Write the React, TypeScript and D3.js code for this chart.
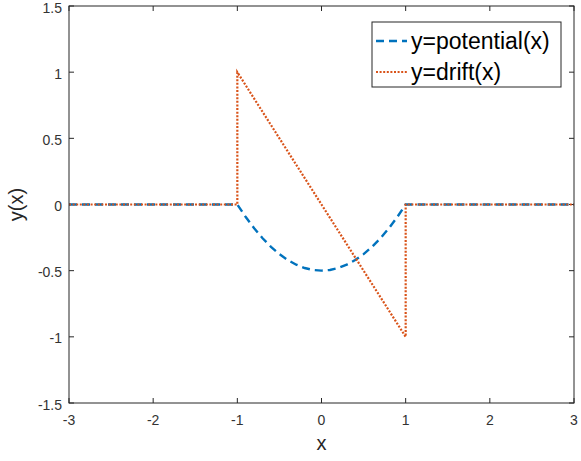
import { useEffect, useRef } from "react";
import * as d3 from "d3";

// potential curve: flat outside [-1, 1], bowl inside
const potentialX = [-3, -1, -0.9, -0.8, -0.7, -0.6, -0.5, -0.4, -0.3, -0.2, -0.1, 0, 0.1, 0.2, 0.3, 0.4, 0.5, 0.6, 0.7, 0.8, 0.9, 1, 3];
const potentialY = [0, 0, -0.095, -0.18, -0.255, -0.32, -0.375, -0.42, -0.455, -0.48, -0.495, -0.5, -0.495, -0.48, -0.455, -0.42, -0.375, -0.32, -0.255, -0.18, -0.095, 0, 0];

// drift: jumps at -1 and 1
const driftX = [-3, -1, -1, 1, 1, 3];
const driftY = [0, 0, 1, -1, 0, 0];

const xTicks = [-3, -2, -1, 0, 1, 2, 3];
const yTicks = [-1.5, -1, -0.5, 0, 0.5, 1, 1.5];
const legendLabels = ["y=potential(x)", "y=drift(x)"];

const W = 581;
const H = 461;
const FONT = "'Liberation Sans', Arial, Helvetica, sans-serif";
const AX = "#262626";

export default function App() {
  const svgRef = useRef<SVGSVGElement>(null);

  useEffect(() => {
    const svg = d3.select(svgRef.current);
    svg.selectAll("*").remove();

    const m = { left: 69, right: 574, top: 6, bottom: 403 };
    const x = d3.scaleLinear().domain([-3, 3]).range([m.left, m.right]);
    const y = d3.scaleLinear().domain([-1.5, 1.5]).range([m.bottom, m.top]);

    svg.append("rect").attr("width", W).attr("height", H).attr("fill", "#fff");

    const tl = 5;
    const g = svg.append("g").attr("stroke", AX).attr("stroke-width", 1);
    // ticks (inward, on all four sides)
    xTicks.forEach((t) => {
      g.append("line").attr("x1", x(t)).attr("x2", x(t)).attr("y1", m.bottom).attr("y2", m.bottom - tl);
      g.append("line").attr("x1", x(t)).attr("x2", x(t)).attr("y1", m.top).attr("y2", m.top + tl);
    });
    yTicks.forEach((t) => {
      g.append("line").attr("x1", m.left).attr("x2", m.left + tl).attr("y1", y(t)).attr("y2", y(t));
      g.append("line").attr("x1", m.right).attr("x2", m.right - tl).attr("y1", y(t)).attr("y2", y(t));
    });

    // tick labels
    svg.append("g").selectAll("text").data(xTicks).join("text")
      .attr("x", (d) => x(d))
      .attr("y", 425)
      .attr("text-anchor", "middle")
      .attr("font-family", FONT).attr("font-size", 14).attr("fill", "#333")
      .text((d) => String(d));
    svg.append("g").selectAll("text").data(yTicks).join("text")
      .attr("x", m.left - 7)
      .attr("y", (d) => y(d) + 6.5)
      .attr("text-anchor", "end")
      .attr("font-family", FONT).attr("font-size", 14).attr("fill", "#333")
      .text((d) => String(d));

    // axis labels
    svg.append("text")
      .attr("x", (m.left + m.right) / 2).attr("y", 450)
      .attr("text-anchor", "middle")
      .attr("font-family", FONT).attr("font-size", 20).attr("fill", AX)
      .text("x");
    svg.append("text")
      .attr("transform", `translate(23,${(m.top + m.bottom) / 2}) rotate(-90)`)
      .attr("text-anchor", "middle")
      .attr("font-family", FONT).attr("font-size", 20).attr("fill", AX)
      .text("y(x)");

    const line = d3.line<[number, number]>().x((d) => x(d[0])).y((d) => y(d[1]));

    svg.append("path")
      .datum(potentialX.map((v, i) => [v, potentialY[i]] as [number, number]))
      .attr("d", line)
      .attr("fill", "none").attr("stroke", "#0072BD").attr("stroke-width", 2.4)
      .attr("stroke-dasharray", "8,5");

    svg.append("path")
      .datum(driftX.map((v, i) => [v, driftY[i]] as [number, number]))
      .attr("d", line)
      .attr("fill", "none").attr("stroke", "#D95319").attr("stroke-width", 2.2)
      .attr("stroke-dasharray", "2,1.6");

    // box
    svg.append("rect")
      .attr("x", m.left).attr("y", m.top)
      .attr("width", m.right - m.left).attr("height", m.bottom - m.top)
      .attr("fill", "none").attr("stroke", AX).attr("stroke-width", 1);

    // legend
    const lg = svg.append("g");
    lg.append("rect").attr("x", 372).attr("y", 22).attr("width", 189).attr("height", 65)
      .attr("fill", "#fff").attr("stroke", AX).attr("stroke-width", 1);
    const styles = [
      { color: "#0072BD", dash: "8,5", w: 2.4 },
      { color: "#D95319", dash: "2,1.6", w: 2.2 },
    ];
    legendLabels.forEach((label, i) => {
      const cy = 41 + i * 31;
      lg.append("line").attr("x1", 376).attr("x2", 407).attr("y1", cy).attr("y2", cy)
        .attr("stroke", styles[i].color).attr("stroke-width", styles[i].w)
        .attr("stroke-dasharray", styles[i].dash);
      lg.append("text").attr("x", 411).attr("y", cy + 8)
        .attr("font-family", FONT).attr("font-size", 23).attr("fill", "#000")
        .text(label);
    });
  }, []);

  return (
    <svg
      ref={svgRef}
      width={W}
      height={H}
      style={{ position: "absolute", left: 0, top: 0, display: "block" }}
    />
  );
}
